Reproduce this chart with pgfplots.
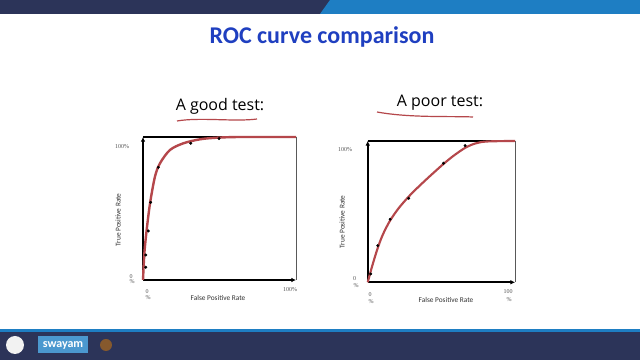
\documentclass[border=0pt]{standalone}
\usepackage{pgfplots}
\pgfplotsset{compat=1.18}
\usetikzlibrary{arrows.meta}
\usepackage{fontspec}
\setmainfont{Carlito}
\newfontfamily\tickfont{Liberation Serif}
\newfontfamily\hand{Open Sans}
\definecolor{navy}{HTML}{2C3459}
\definecolor{topblue}{HTML}{1E7EC3}
\definecolor{titleblue}{HTML}{1F3FC0}
\definecolor{curvered}{HTML}{B5474B}
\definecolor{ticktext}{HTML}{555555}

\pgfplotstableread{
x y
0 0
0.9 18.7
2.4 35
4.6 53.6
7.8 72.2
11.1 81.6
17.6 90.9
26.4 95.6
37.3 98.4
48.2 99.5
63.4 100
100 100
}\goodcurve
\pgfplotstableread{
x y
1.8 8.9
1.8 17.5
3.5 34.3
5.0 54.3
10.0 78.8
31.2 95.6
49.7 98.9
}\gooddots
\pgfplotstableread{
x y
0 0
3 11.4
6.8 24.3
10.5 34.3
15.2 43.7
21 52.4
27.8 60.6
34 67.1
40.1 73.1
46 78.7
51.4 83.7
58 89.3
66.1 95.1
73 98.2
80.8 99.6
100 100
}\poorcurve
\pgfplotstableread{
x y
2.0 5.9
6.8 25.9
15.2 44.6
27.8 59.4
51.4 84.2
66.1 96.7
}\poordots

\pgfplotsset{roc/.style={
  anchor=south west, scale only axis, clip=false,
  xmin=0, xmax=100, ymin=0, ymax=100,
  axis lines=left, ticks=none,
  axis line style={line width=1.6pt, -{Latex[length=3.5pt,width=3.5pt]}},
}}

\begin{document}
\begin{tikzpicture}[x=0.75pt,y=0.75pt]
\path[use as bounding box, fill=white] (0,0) rectangle (640,360);
% top bar
\fill[navy] (0,346) rectangle (640,360);
\fill[topblue] (320,346) -- (330,360) -- (640,360) -- (640,346) -- cycle;
% bottom bar
\fill[navy] (0,0) rectangle (640,30);
\fill[topblue] (0,28) rectangle (640,30.5);
\fill[white!90!gray] (15,15) circle (9);
\fill[topblue!80!white] (38,7) rectangle (88,24);
\node[text=white, font=\bfseries\fontsize{9}{10}\selectfont] at (63,15) {swayam};
\fill[brown!70!black] (106,15) circle (6);

% title
\node[text=titleblue, font=\bfseries\fontsize{18}{20}\selectfont] at (322,323) {ROC curve comparison};

% subtitles
\node[font=\hand\fontsize{12}{14}\selectfont] at (220,254) {A good test:};
\draw[curvered, line width=0.9pt] (177,239) .. controls (200,243) and (235,238) .. (257,241);
\node[font=\hand\fontsize{12}{14}\selectfont] at (440,257) {A poor test:};
\draw[curvered, line width=0.9pt] (377,248) .. controls (410,242) and (450,244) .. (473,243);

% left chart
\begin{axis}[roc, at={(107.25pt,60pt)}, width=114.75pt, height=107.25pt]
\draw[black, line width=1.2pt] (rel axis cs:0,1) -- (rel axis cs:1,1);
\draw[gray!70!black, line width=0.6pt] (rel axis cs:1,1) -- (rel axis cs:1,0);
\addplot[curvered, line width=1.8pt, smooth, tension=0.5] table {\goodcurve};
\addplot[only marks, mark=*, mark size=0.9pt, black] table {\gooddots};
\end{axis}

% right chart
\begin{axis}[roc, at={(275.8pt,58.3pt)}, width=110.5pt, height=106pt]
\draw[black, line width=1.2pt] (rel axis cs:0,1) -- (rel axis cs:1,1);
\draw[gray!70!black, line width=0.6pt] (rel axis cs:1,1) -- (rel axis cs:1,0);
\addplot[curvered, line width=1.6pt, smooth, tension=0.5] table {\poorcurve};
\addplot[only marks, mark=*, mark size=0.9pt, black] table {\poordots};
\end{axis}

% tick-like labels
\begin{scope}[every node/.style={text=ticktext, font=\tickfont\fontsize{4.5}{5}\selectfont, inner sep=0pt}]
\node at (122,213) {100\%};
\node at (131,83) {0};
\node at (132,78) {\%};
\node at (147,68) {0};
\node at (148,62) {\%};
\node at (290,70) {100\%};
\node at (345,210) {100\%};
\node at (354.5,81) {0};
\node at (356,74.5) {\%};
\node at (370,65) {0};
\node at (371,58) {\%};
\node at (508,68) {100};
\node at (509,60) {\%};
\end{scope}
\begin{scope}[every node/.style={text=black!80, font=\fontsize{5.5}{6}\selectfont, inner sep=0pt}]
\node at (218,62) {False Positive Rate};
\node[rotate=90] at (118,140) {True Positive Rate};
\node at (446,60) {False Positive Rate};
\node[rotate=90] at (342,138) {True Positive Rate};
\end{scope}
\end{tikzpicture}
\end{document}
